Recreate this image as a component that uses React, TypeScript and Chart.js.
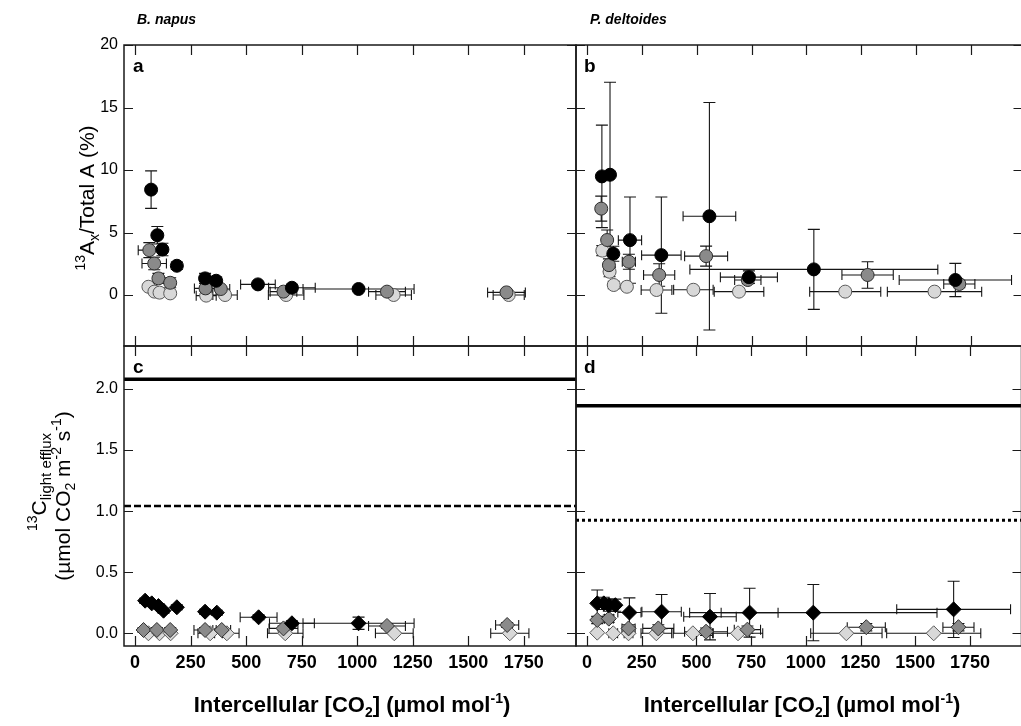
import React, { useEffect, useRef } from 'react';
import { Chart, registerables } from 'chart.js';

Chart.register(...registerables);

// [x (intercellular CO2), y, x error, y error]
type Row = [number, number, number, number];

// ---------------- data ----------------
const xTickValues = [0, 250, 500, 750, 1000, 1250, 1500, 1750];
const yTicksRatio = [0, 5, 10, 15, 20];
const yTicksEfflux = [0, 0.5, 1.0, 1.5, 2.0];

// panel a: B. napus, 13Ax / total A (%)
const napusRatioBlack: Row[] = [
  [72, 8.43, 0, 1.5], [100, 4.78, 15, 0.7], [123, 3.64, 15, 0.5], [188, 2.34, 0, 0.3],
  [315, 1.33, 0, 0.4], [365, 1.14, 0, 0.3], [553, 0.85, 78, 0.15], [706, 0.58, 105, 0.15],
  [1006, 0.48, 250, 0.15],
];
const napusRatioGrey: Row[] = [
  [64, 3.59, 50, 0.6], [86, 2.52, 55, 0.5], [105, 1.33, 0, 0.4], [158, 0.98, 0, 0.4],
  [317, 0.53, 50, 0.2], [386, 0.48, 40, 0.2], [668, 0.27, 60, 0.1], [1134, 0.27, 83, 0.1],
  [1672, 0.21, 85, 0.1],
];
const napusRatioLight: Row[] = [
  [60, 0.66, 0, 0.2], [87, 0.27, 0, 0.1], [110, 0.19, 0, 0.1], [158, 0.13, 0, 0.1],
  [320, -0.05, 45, 0.1], [405, 0.0, 55, 0.1], [680, 0.0, 80, 0.1], [1164, 0.0, 80, 0.1],
  [1682, 0.0, 70, 0.1],
];

// panel b: P. deltoides, 13Ax / total A (%)
const deltRatioBlack: Row[] = [
  [68, 9.49, 0, 4.1], [105, 9.62, 15, 7.4], [120, 3.3, 0, 0.6], [196, 4.39, 53, 3.45],
  [339, 3.19, 90, 4.65], [558, 6.3, 120, 9.1], [738, 1.43, 130, 0.5], [1034, 2.05, 565, 3.2],
  [1679, 1.2, 256, 1.33],
];
const deltRatioGrey: Row[] = [
  [65, 6.91, 0, 1.0], [92, 4.4, 20, 0.8], [100, 2.39, 20, 0.5], [191, 2.66, 30, 0.6],
  [329, 1.6, 71, 0.9], [543, 3.11, 98, 0.8], [733, 1.2, 60, 0.3], [1279, 1.6, 117, 1.06],
  [1697, 0.88, 71, 0.3],
];
const deltRatioLight: Row[] = [
  [70, 3.55, 20, 0.4], [103, 1.86, 20, 0.4], [122, 0.8, 15, 0.3], [182, 0.66, 20, 0.2],
  [317, 0.4, 70, 0.2], [485, 0.42, 90, 0.1], [693, 0.27, 113, 0.1], [1177, 0.27, 162, 0.1],
  [1584, 0.27, 215, 0.1],
];

// panel c: B. napus, 13C light efflux
const napusEffluxBlack: Row[] = [
  [45, 0.267, 0, 0.02], [75, 0.245, 0, 0.02], [105, 0.223, 0, 0.02], [128, 0.185, 0, 0.02],
  [188, 0.213, 0, 0.02], [315, 0.177, 0, 0.02], [368, 0.169, 0, 0.02], [556, 0.131, 83, 0.02],
  [706, 0.082, 101, 0.02], [1006, 0.082, 250, 0.05],
];
const napusEffluxGrey: Row[] = [
  [38, 0.027, 0, 0.02], [98, 0.027, 0, 0.02], [158, 0.027, 0, 0.02], [315, 0.027, 50, 0.02],
  [390, 0.027, 40, 0.02], [668, 0.04, 65, 0.02], [1134, 0.06, 83, 0.02], [1675, 0.068, 52, 0.02],
];
const napusEffluxLight: Row[] = [
  [60, 0.0, 0, 0.01], [110, 0.0, 0, 0.01], [160, 0.0, 0, 0.01], [338, 0.0, 55, 0.01],
  [413, 0.0, 55, 0.01], [676, 0.0, 80, 0.01], [1167, 0.0, 85, 0.01], [1687, 0.0, 86, 0.01],
];
const napusEffluxSolid = 2.08;
const napusEffluxDashed = 1.042;

// panel d: P. deltoides, 13C light efflux
const deltEffluxBlack: Row[] = [
  [47, 0.245, 0, 0.11], [77, 0.245, 0, 0.05], [100, 0.23, 20, 0.05], [130, 0.23, 0, 0.05],
  [194, 0.17, 53, 0.12], [341, 0.177, 90, 0.14], [562, 0.136, 120, 0.19], [743, 0.169, 130, 0.2],
  [1034, 0.169, 565, 0.23], [1675, 0.196, 260, 0.23],
];
const deltEffluxGrey: Row[] = [
  [47, 0.109, 0, 0.03], [100, 0.12, 20, 0.03], [190, 0.04, 30, 0.03], [326, 0.04, 71, 0.03],
  [544, 0.013, 98, 0.03], [733, 0.03, 60, 0.03], [1276, 0.05, 87, 0.03], [1697, 0.05, 71, 0.03],
];
const deltEffluxLight: Row[] = [
  [47, 0.005, 0, 0.01], [120, 0.0, 20, 0.01], [190, 0.0, 20, 0.01], [317, 0.0, 70, 0.01],
  [484, 0.0, 90, 0.01], [690, 0.0, 113, 0.01], [1185, 0.0, 163, 0.01], [1584, 0.0, 215, 0.01],
];
const deltEffluxSolid = 1.862;
const deltEffluxDotted = 0.925;

// ---------------- drawing ----------------
const CW = 1030;
const CH = 726;
const FONT = '"Liberation Sans", Arial, Helvetica, sans-serif';

type Seg = { t: string; s: number; dy?: number };

function drawRich(
  ctx: CanvasRenderingContext2D,
  segs: Seg[],
  cx: number,
  cy: number,
  weight: string,
  rotate: boolean,
) {
  ctx.save();
  ctx.translate(cx, cy);
  if (rotate) ctx.rotate(-Math.PI / 2);
  ctx.fillStyle = '#000';
  ctx.textAlign = 'left';
  ctx.textBaseline = 'alphabetic';
  let total = 0;
  const widths = segs.map((g) => {
    ctx.font = `${weight} ${g.s}px ${FONT}`;
    const w = ctx.measureText(g.t).width;
    total += w;
    return w;
  });
  let x = -total / 2;
  segs.forEach((g, i) => {
    ctx.font = `${weight} ${g.s}px ${FONT}`;
    ctx.fillText(g.t, x, g.dy ?? 0);
    x += widths[i];
  });
  ctx.restore();
}

function drawText(ctx: CanvasRenderingContext2D, t: string, x: number, y: number, font: string) {
  ctx.save();
  ctx.font = font;
  ctx.fillStyle = '#000';
  ctx.textAlign = 'left';
  ctx.textBaseline = 'alphabetic';
  ctx.fillText(t, x, y);
  ctx.restore();
}

const xTitle: Seg[] = [
  { t: 'Intercellular [CO', s: 22 },
  { t: '2', s: 14, dy: 5 },
  { t: '] (\u00b5mol mol', s: 22 },
  { t: '-1', s: 14, dy: -9 },
  { t: ')', s: 22 },
];

interface Series {
  rows: Row[];
  fill: string;
  edge: string;
  shape: string;
  radius: number;
}
interface RefLine {
  y: number;
  width: number;
  dash: number[];
}
interface Panel {
  area: { left: number; top: number; right: number; bottom: number };
  xMin: number;
  xMax: number;
  yMin: number;
  yMax: number;
  yTicks: number[];
  yFmt: (v: number) => string;
  showX: boolean;
  showY: boolean;
  series: Series[];
  refs: RefLine[];
  deco: (ctx: CanvasRenderingContext2D) => void;
}

const BLACK = { fill: '#000000', edge: '#000000' };
const GREY = { fill: '#8a8a8a', edge: '#2e2e2e' };
const LIGHT = { fill: '#d8d8d8', edge: '#5a5a5a' };

const circ = (rows: Row[], c: { fill: string; edge: string }): Series => ({
  rows, ...c, shape: 'circle', radius: 6.5,
});
const diam = (rows: Row[], c: { fill: string; edge: string }): Series => ({
  rows, ...c, shape: 'rectRot', radius: 7.5,
});

const panels: Panel[] = [
  {
    area: { left: 124, top: 45, right: 576, bottom: 346 },
    xMin: -50, xMax: 1985, yMin: -4.08, yMax: 20,
    yTicks: yTicksRatio, yFmt: (v) => String(v),
    showX: false, showY: true,
    series: [circ(napusRatioBlack, BLACK), circ(napusRatioGrey, GREY), circ(napusRatioLight, LIGHT)],
    refs: [],
    deco: (ctx) => {
      drawText(ctx, 'B. napus', 137, 24, `italic bold 14px ${FONT}`);
      drawText(ctx, 'a', 133, 72, `bold 19px ${FONT}`);
      drawRich(ctx, [
        { t: '13', s: 14, dy: -9 },
        { t: 'A', s: 21 },
        { t: 'x', s: 14, dy: 5 },
        { t: '/Total A (%)', s: 21 },
      ], 94, 198, 'normal', true);
    },
  },
  {
    area: { left: 576, top: 45, right: 1026, bottom: 346 },
    xMin: -50, xMax: 1985, yMin: -4.08, yMax: 20,
    yTicks: yTicksRatio, yFmt: (v) => String(v),
    showX: false, showY: false,
    series: [circ(deltRatioBlack, BLACK), circ(deltRatioGrey, GREY), circ(deltRatioLight, LIGHT)],
    refs: [],
    deco: (ctx) => {
      drawText(ctx, 'P. deltoides', 590, 24, `italic bold 14px ${FONT}`);
      drawText(ctx, 'b', 584, 72, `bold 19px ${FONT}`);
    },
  },
  {
    area: { left: 124, top: 346, right: 576, bottom: 646 },
    xMin: -50, xMax: 1985, yMin: -0.104, yMax: 2.352,
    yTicks: yTicksEfflux, yFmt: (v) => v.toFixed(1),
    showX: true, showY: true,
    series: [diam(napusEffluxBlack, BLACK), diam(napusEffluxGrey, GREY), diam(napusEffluxLight, LIGHT)],
    refs: [
      { y: napusEffluxSolid, width: 3.5, dash: [] },
      { y: napusEffluxDashed, width: 2.5, dash: [7, 3] },
    ],
    deco: (ctx) => {
      drawText(ctx, 'c', 133, 373, `bold 19px ${FONT}`);
      drawRich(ctx, [
        { t: '13', s: 14, dy: -9 },
        { t: 'C', s: 21 },
        { t: 'light efflux', s: 15, dy: 5 },
      ], 46, 482, 'normal', true);
      drawRich(ctx, [
        { t: '(\u00b5mol CO', s: 21 },
        { t: '2', s: 14, dy: 5 },
        { t: ' m', s: 21 },
        { t: '-2', s: 14, dy: -9 },
        { t: ' s', s: 21 },
        { t: '-1', s: 14, dy: -9 },
        { t: ')', s: 21 },
      ], 70, 496, 'normal', true);
      drawRich(ctx, xTitle, 352, 712, 'bold', false);
    },
  },
  {
    area: { left: 576, top: 346, right: 1026, bottom: 646 },
    xMin: -50, xMax: 1985, yMin: -0.104, yMax: 2.352,
    yTicks: yTicksEfflux, yFmt: (v) => v.toFixed(1),
    showX: true, showY: false,
    series: [diam(deltEffluxBlack, BLACK), diam(deltEffluxGrey, GREY), diam(deltEffluxLight, LIGHT)],
    refs: [
      { y: deltEffluxSolid, width: 3.5, dash: [] },
      { y: deltEffluxDotted, width: 3, dash: [3, 3] },
    ],
    deco: (ctx) => {
      drawText(ctx, 'd', 584, 373, `bold 19px ${FONT}`);
      drawRich(ctx, xTitle, 802, 712, 'bold', false);
    },
  },
];

function makeDeco(p: Panel) {
  return {
    id: 'panelDeco',
    beforeDatasetsDraw(chart: any) {
      const { ctx, chartArea: a, scales } = chart;
      const xs = scales.x;
      const ys = scales.y;
      ctx.save();
      ctx.beginPath();
      ctx.rect(a.left, a.top, a.right - a.left, a.bottom - a.top);
      ctx.clip();
      ctx.strokeStyle = '#151515';
      ctx.lineWidth = 1.1;
      p.series.forEach((s) =>
        s.rows.forEach(([x, y, xe, ye]) => {
          const px = xs.getPixelForValue(x);
          const py = ys.getPixelForValue(y);
          ctx.beginPath();
          if (ye > 0) {
            const t = ys.getPixelForValue(y + ye);
            const b = ys.getPixelForValue(y - ye);
            ctx.moveTo(px, t); ctx.lineTo(px, b);
            ctx.moveTo(px - 6, t); ctx.lineTo(px + 6, t);
            ctx.moveTo(px - 6, b); ctx.lineTo(px + 6, b);
          }
          if (xe > 0) {
            const l = xs.getPixelForValue(x - xe);
            const r = xs.getPixelForValue(x + xe);
            ctx.moveTo(l, py); ctx.lineTo(r, py);
            ctx.moveTo(l, py - 5); ctx.lineTo(l, py + 5);
            ctx.moveTo(r, py - 5); ctx.lineTo(r, py + 5);
          }
          ctx.stroke();
        }),
      );
      ctx.restore();
    },
    afterDraw(chart: any) {
      const { ctx, chartArea: a, scales } = chart;
      const xs = scales.x;
      const ys = scales.y;
      ctx.save();
      ctx.strokeStyle = '#1a1a1a';
      ctx.lineWidth = 1.5;
      ctx.strokeRect(a.left, a.top, a.right - a.left, a.bottom - a.top);
      ctx.lineWidth = 1.2;
      ctx.beginPath();
      xTickValues.forEach((v) => {
        const px = Math.round(xs.getPixelForValue(v)) + 0.5;
        ctx.moveTo(px, a.top); ctx.lineTo(px, a.top + 10);
        ctx.moveTo(px, a.bottom); ctx.lineTo(px, a.bottom - 10);
      });
      p.yTicks.forEach((v) => {
        const py = Math.round(ys.getPixelForValue(v)) + 0.5;
        ctx.moveTo(a.left, py); ctx.lineTo(a.left + 9, py);
        ctx.moveTo(a.right, py); ctx.lineTo(a.right - 9, py);
      });
      ctx.stroke();
      ctx.restore();
      p.deco(ctx);
    },
  };
}

function buildChart(canvas: HTMLCanvasElement, p: Panel) {
  const datasets: any[] = [];
  p.series.forEach((s) => {
    datasets.push({
      type: 'scatter',
      data: s.rows.map((r) => ({ x: r[0], y: r[1] })),
      pointStyle: s.shape,
      pointRadius: s.radius,
      pointBackgroundColor: s.fill,
      pointBorderColor: s.edge,
      pointBorderWidth: 1,
      showLine: false,
    });
  });
  p.refs.forEach((r) => {
    datasets.push({
      type: 'scatter',
      data: [{ x: p.xMin, y: r.y }, { x: p.xMax, y: r.y }],
      showLine: true,
      borderColor: '#000',
      borderWidth: r.width,
      borderDash: r.dash,
      pointRadius: 0,
      fill: false,
    });
  });
  const yW = p.showY ? p.area.left : 0;
  const xH = p.showX ? CH - p.area.bottom : 0;
  return new Chart(canvas, {
    type: 'scatter',
    data: { datasets },
    options: {
      responsive: false,
      animation: false,
      devicePixelRatio: 1,
      events: [],
      layout: {
        padding: {
          left: p.area.left - yW,
          top: p.area.top,
          right: CW - p.area.right,
          bottom: CH - p.area.bottom - xH,
        },
      },
      plugins: { legend: { display: false }, tooltip: { enabled: false } },
      scales: {
        x: {
          type: 'linear',
          position: 'bottom',
          min: p.xMin,
          max: p.xMax,
          grid: { display: false, drawTicks: false },
          border: { display: false },
          ticks: {
            display: p.showX,
            autoSkip: false,
            maxRotation: 0,
            padding: 6,
            color: '#000',
            font: { family: FONT, size: 18, weight: 'bold' },
            callback: (v: any) => String(v),
          },
          afterBuildTicks: (s: any) => {
            s.ticks = xTickValues.map((v) => ({ value: v }));
          },
          afterFit: (s: any) => {
            s.height = xH;
          },
        },
        y: {
          type: 'linear',
          position: 'left',
          min: p.yMin,
          max: p.yMax,
          grid: { display: false, drawTicks: false },
          border: { display: false },
          ticks: {
            display: p.showY,
            autoSkip: false,
            padding: 6,
            color: '#000',
            font: { family: FONT, size: 16 },
            callback: (v: any) => p.yFmt(Number(v)),
          },
          afterBuildTicks: (s: any) => {
            s.ticks = p.yTicks.map((v) => ({ value: v }));
          },
          afterFit: (s: any) => {
            s.width = yW;
          },
        },
      },
    } as any,
    plugins: [makeDeco(p)],
  });
}

export default function App() {
  const refs = useRef<(HTMLCanvasElement | null)[]>([]);
  useEffect(() => {
    const charts = panels.map((p, i) => buildChart(refs.current[i] as HTMLCanvasElement, p));
    return () => charts.forEach((c) => c.destroy());
  }, []);
  return (
    <div
      style={{
        position: 'absolute',
        left: 0,
        top: 0,
        width: 1021,
        height: 726,
        overflow: 'hidden',
        background: '#fff',
      }}
    >
      {panels.map((_, i) => (
        <canvas
          key={i}
          ref={(el) => {
            refs.current[i] = el;
          }}
          width={CW}
          height={CH}
          style={{ position: 'absolute', left: 0, top: 0, width: CW, height: CH }}
        />
      ))}
    </div>
  );
}
